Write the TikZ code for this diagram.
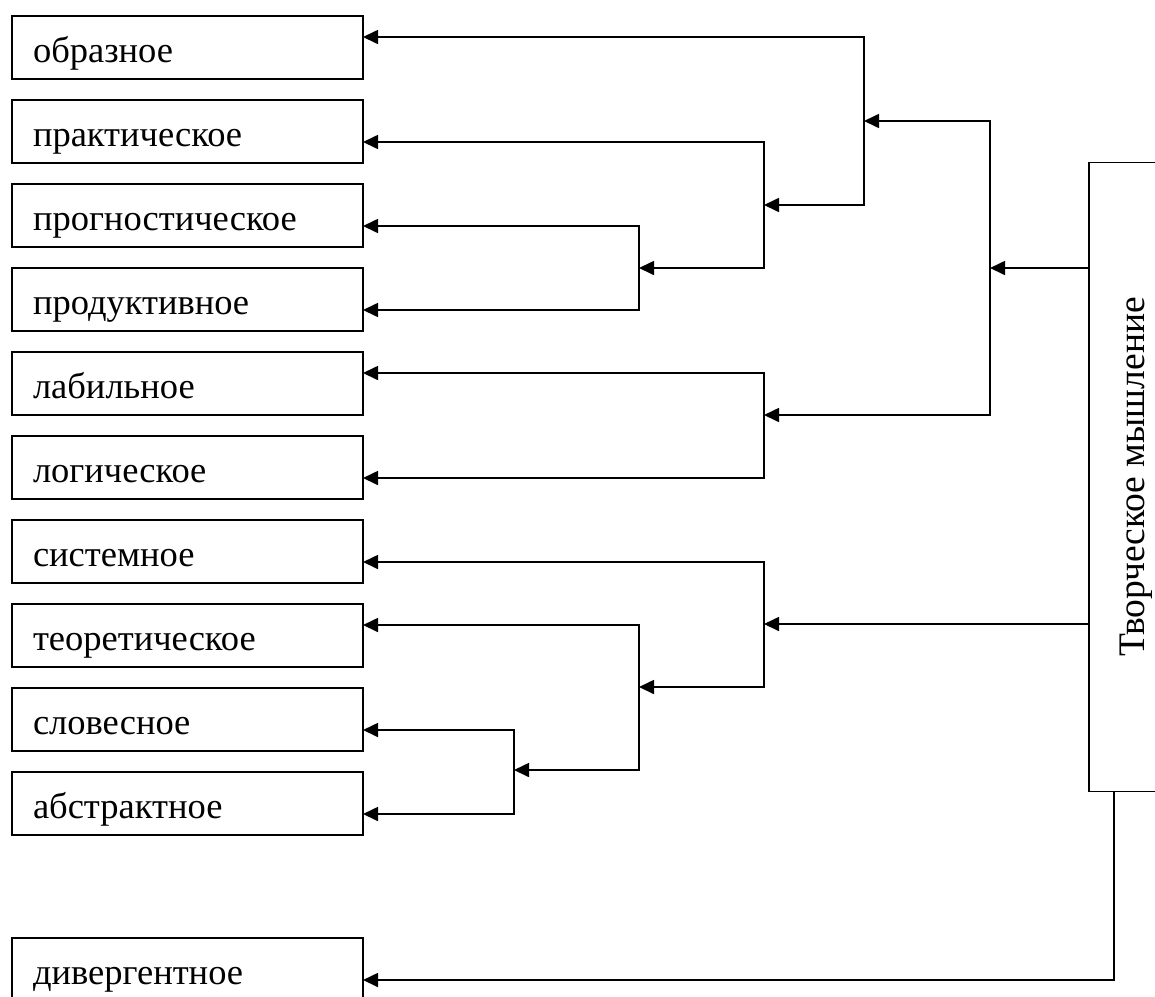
\documentclass[tikz,border=0pt]{standalone}
\usepackage{fontspec}
\setmainfont{Liberation Serif}
\usepackage{tikz}
\usetikzlibrary{arrows.meta,positioning}

\begin{document}
\begin{tikzpicture}[x=1pt, y=-1pt, node distance=21pt,
    >={Triangle[length=15pt,width=14pt]},
    line width=1.7pt,
    every node/.append style={font=\fontsize{36.5}{44}\selectfont},
    box/.style={draw, anchor=north west, inner xsep=21pt, inner ysep=0pt, outer sep=0pt,
      text width=309pt, align=left, text height=46.5pt, text depth=16.5pt}]
   \useasboundingbox (0,0) rectangle (1155,996);

   % kinds of thinking
   \node [box] (obr) at (12,16)       {образное};
   \node [box, below=of obr] (prak)   {практическое};
   \node [box, below=of prak] (prog)  {прогностическое};
   \node [box, below=of prog] (prod)  {продуктивное};
   \node [box, below=of prod] (lab)   {лабильное};
   \node [box, below=of lab] (log)    {логическое};
   \node [box, below=of log] (sys)    {системное};
   \node [box, below=of sys] (teor)   {теоретическое};
   \node [box, below=of teor] (slov)  {словесное};
   \node [box, below=of slov] (abstr) {абстрактное};
   \node [box, below=103pt of abstr] (div) {дивергентное};

   \node [draw, outer sep=0pt, minimum width=94pt, minimum height=629pt,
      font=\fontsize{37.5}{44}\selectfont] (tm) at (1136,477)
      {\rotatebox{90}{Творческое мышление}};

   % branch points
   \coordinate (j1) at (639,268);
   \coordinate (j2) at (764,205);
   \coordinate (j3) at (864,121);
   \coordinate (j4) at (990,268);
   \coordinate (j5) at (764,415);
   \coordinate (j6) at (764,624);
   \coordinate (j7) at (639,687);
   \coordinate (j8) at (514,770);

   \draw[->] (j4 -| tm.west) -- (j4);
   \draw[->] (j4) |- (j3);
   \draw[->] (j4) |- (j5);
   \draw[->] (j3) |- ([yshift=-21pt]obr.north east);
   \draw[->] (j3) |- (j2);
   \draw[->] (j2) |- ([yshift=21pt]prak.south east);
   \draw[->] (j2) |- (j1);
   \draw[->] (j1) |- ([yshift=21pt]prog.south east);
   \draw[->] (j1) |- ([yshift=21pt]prod.south east);
   \draw[->] (j5) |- ([yshift=-21pt]lab.north east);
   \draw[->] (j5) |- ([yshift=21pt]log.south east);

   \draw[->] (j6 -| tm.west) -- (j6);
   \draw[->] (j6) |- ([yshift=21pt]sys.south east);
   \draw[->] (j6) |- (j7);
   \draw[->] (j7) |- ([yshift=-21pt]teor.north east);
   \draw[->] (j7) |- (j8);
   \draw[->] (j8) |- ([yshift=21pt]slov.south east);
   \draw[->] (j8) |- ([yshift=21pt]abstr.south east);

   \draw[->] ([xshift=25pt]tm.south west) |- ([yshift=21pt]div.south east);
\end{tikzpicture}
\end{document}
